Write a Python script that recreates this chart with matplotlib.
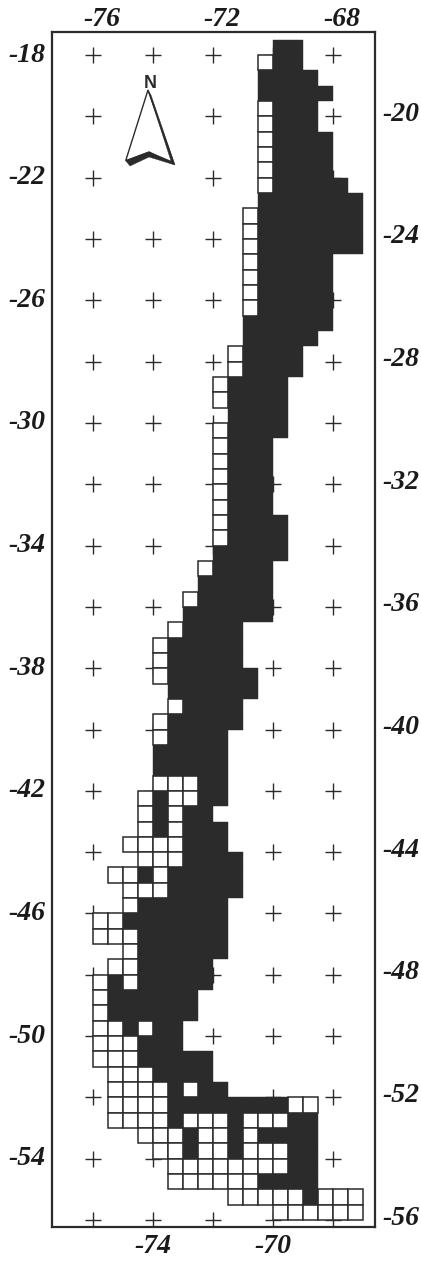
import numpy as np
import matplotlib
matplotlib.use("Agg")
import matplotlib.pyplot as plt
from matplotlib.patches import Rectangle, Polygon
from matplotlib.transforms import ScaledTranslation

# cell map, 0.5 degree cells, first row starts at -17.5, first column at -76
# '#' = filled, 'o' = open, '.' = nothing
cell_rows = [
    "............##....",
    "...........o##....",
    "...........####...",
    "...........#####..",
    "...........o###...",
    "...........o###...",
    "...........o####..",
    "...........o####..",
    "...........o####..",
    "...........o#####.",
    "...........#######",
    "..........o#######",
    "..........o#######",
    "..........o#######",
    "..........o#####..",
    "..........o#####..",
    "..........o#####..",
    "..........o#####..",
    "..........######..",
    "..........#####...",
    ".........o####....",
    ".........o####....",
    "........o####.....",
    "........o####.....",
    ".........####.....",
    "........o####.....",
    "........o###......",
    "........o###......",
    "........o###......",
    "........o###......",
    "........o###......",
    "........o####.....",
    "........o####.....",
    "........#####.....",
    ".......o####......",
    ".......#####......",
    "......o#####......",
    "......######......",
    ".....o####........",
    "....o#####........",
    "....o#####........",
    "....o######.......",
    ".....######.......",
    ".....o####........",
    "....o#####........",
    "....o####.........",
    "....#####.........",
    "....#####.........",
    "....ooo##.........",
    "...o#oo##.........",
    "...o#o##..........",
    "...o#o###.........",
    "..oooo###.........",
    "...ooo####........",
    ".oo#o#####........",
    "..ooo#####........",
    "..o######.........",
    "oo#######.........",
    "ooo######.........",
    "..o######.........",
    ".oo#####..........",
    "o#o#####..........",
    "o######...........",
    "o######...........",
    "oo#o##............",
    "ooo###............",
    "ooo#####..........",
    ".ooo####..........",
    ".oooo#o##.........",
    ".oooo########oo...",
    ".oooo#ooo#ooo##...",
    "...ooo#oo#o####...",
    "....oo#oo#ooo##...",
    ".....oooooooo##...",
    ".....oooooo####...",
    ".........ooooo#ooo",
    "............oooooo",
]

top_lons = [-76, -72, -68]
bottom_lons = [-74, -70]
left_lats = [-18, -22, -26, -30, -34, -38, -42, -46, -50, -54]
right_lats = [-20, -24, -28, -32, -36, -40, -44, -48, -52, -56]

cross_lons = [-76, -74, -72, -70, -68]
cross_lats = list(range(-18, -58, -2))
# the north arrow sits on these two
skip_crosses = [(-74, -20), (-74, -22)]

DARK = "#2b2b2b"
W, H = 421, 1263
LEFT, RIGHT, TOP, BOTTOM = 52, 375, 32, 1227
PX_LON = 30.0
PX_LAT = 30.66


def x_to_lon(x):
    return -76 + (x - 92.7) / PX_LON


def y_to_lat(y):
    return -18 - (y - 55) / PX_LAT


def draw_cells(ax):
    for r, row in enumerate(cell_rows):
        lat_top = -17.5 - r * 0.5
        for c, kind in enumerate(row):
            lon = -76 + c * 0.5
            if kind == "#":
                ax.add_patch(Rectangle((lon, lat_top - 0.5), 0.5, 0.5, facecolor=DARK,
                                       edgecolor=DARK, linewidth=0.3, zorder=3))
            elif kind == "o":
                ax.add_patch(Rectangle((lon, lat_top - 0.5), 0.5, 0.5, facecolor="white",
                                       edgecolor=DARK, linewidth=1.1, zorder=2))


def draw_crosses(ax):
    for lon in cross_lons:
        for lat in cross_lats:
            if (lon, lat) in skip_crosses:
                continue
            ax.plot(lon, lat, marker="+", markersize=12, markeredgewidth=1.0,
                    color=DARK, zorder=1, linestyle="none")


def draw_north_arrow(ax):
    outline = [(148, 90), (125.7, 160.7), (149, 152), (174, 164)]
    shadow = [(148, 90), (151, 95), (175, 165), (149, 157), (130, 166),
              (125.7, 160.7), (149, 152), (171, 161)]
    ax.add_patch(Polygon([(x_to_lon(x), y_to_lat(y)) for x, y in outline], closed=True,
                         facecolor="white", edgecolor=DARK, linewidth=1.0, zorder=4))
    ax.add_patch(Polygon([(x_to_lon(x), y_to_lat(y)) for x, y in shadow], closed=True,
                         facecolor=DARK, edgecolor=DARK, linewidth=0.3, zorder=5))
    ax.text(x_to_lon(150), y_to_lat(83), "N", fontsize=13, fontweight="bold",
            family="Liberation Sans", ha="center", va="center", color=DARK, zorder=6)


def shift_labels(labels, fig, dx, dy):
    # scanned labels sit a few pixels off their crosses
    offset = ScaledTranslation(dx / 100, dy / 100, fig.dpi_scale_trans)
    for label in labels:
        label.set_transform(label.get_transform() + offset)


def main():
    fig = plt.figure(figsize=(W / 100, H / 100), dpi=100)
    ax = fig.add_axes([LEFT / W, 1 - BOTTOM / H, (RIGHT - LEFT) / W, (BOTTOM - TOP) / H])
    ax.set_xlim(x_to_lon(LEFT), x_to_lon(RIGHT))
    ax.set_ylim(y_to_lat(BOTTOM), y_to_lat(TOP))

    draw_crosses(ax)
    draw_cells(ax)
    draw_north_arrow(ax)

    for spine in ax.spines.values():
        spine.set_linewidth(1.6)
        spine.set_color(DARK)

    font = dict(family="Liberation Serif", fontweight="bold", fontstyle="italic",
                fontsize=20, color="#1a1a1a")

    ax.set_xticks(bottom_lons)
    ax.set_xticklabels([str(v) for v in bottom_lons], **font)
    ax.set_yticks(left_lats)
    ax.set_yticklabels([str(v) for v in left_lats], **font)
    ax.tick_params(length=0, pad=5)
    shift_labels(ax.get_yticklabels(), fig, 0, 3)

    top = ax.secondary_xaxis("top")
    top.set_xticks(top_lons)
    top.set_xticklabels([str(v) for v in top_lons], **font)
    top.tick_params(length=0, pad=0)
    top.spines["top"].set_visible(False)
    shift_labels(top.get_xticklabels(), fig, 9, 0)

    right = ax.secondary_yaxis("right")
    right.set_yticks(right_lats)
    right.set_yticklabels([str(v) for v in right_lats], **font)
    right.tick_params(length=0, pad=5)
    right.spines["right"].set_visible(False)
    shift_labels(right.get_yticklabels(), fig, 0, 5)

    fig.savefig("out.png", dpi=100)


if __name__ == "__main__":
    main()
